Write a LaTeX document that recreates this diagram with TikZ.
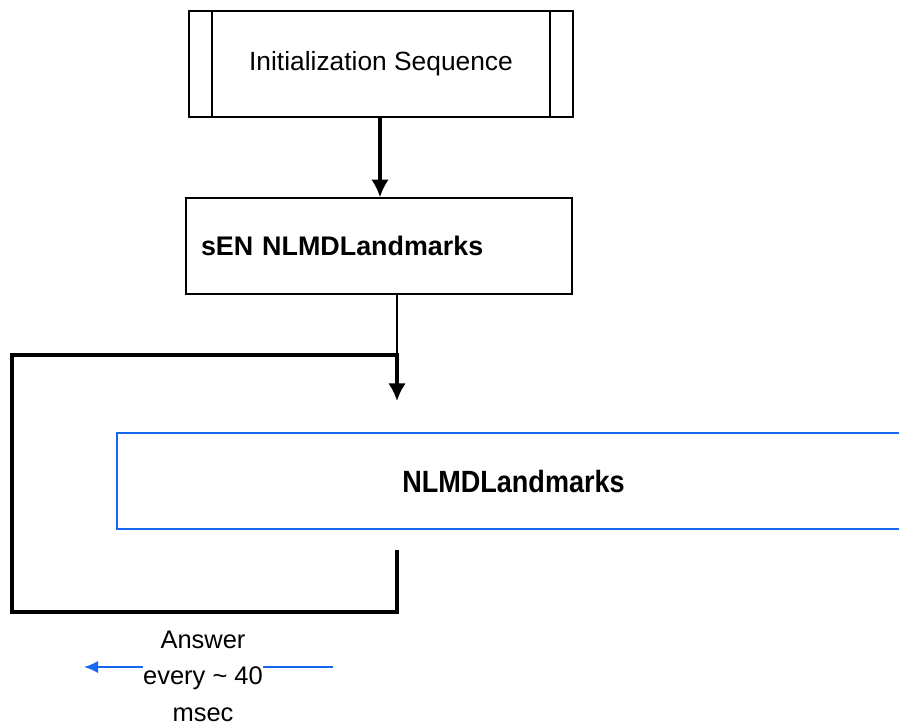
\documentclass[tikz,border=0pt]{standalone}
\usepackage{fontspec}
\setmainfont{Liberation Sans}
\newfontfamily\narrowfont[FakeStretch=0.88]{Liberation Sans}
\usepackage{xcolor}
\usepackage{tikz}
\usetikzlibrary{arrows.meta, positioning, calc}
\definecolor{loopblue}{RGB}{20,105,240}
\tikzset{
  procbox/.style={
    rectangle, draw=black, line width=0.9pt,
    minimum width=384*0.02cm, minimum height=106*0.02cm,
    inner sep=0pt, font=\fontsize{15}{18}\selectfont
  },
  stepbox/.style={
    rectangle, draw=black, line width=0.9pt,
    minimum width=386*0.02cm, minimum height=96*0.02cm,
    text width=356*0.02cm, align=left, inner sep=0pt,
    font=\fontsize{15.3}{18}\selectfont\bfseries
  },
  loopbox/.style={
    rectangle, draw=loopblue, line width=1.2pt,
    minimum width=793*0.02cm, minimum height=96*0.02cm,
    inner sep=0pt, font=\fontsize{17.5}{20}\selectfont\narrowfont\bfseries
  },
  flowarrow/.style={line width=1.8pt, -{Latex[width=10pt, length=10pt]}},
  thinline/.style={line width=0.9pt, draw=black},
  loopline/.style={line width=1.8pt, draw=black, line cap=rect},
  flowarrowB/.style={line width=1.1pt, draw=loopblue, -{Latex[width=7pt, length=8pt]}}
}
\begin{document}
\begin{tikzpicture}[x=0.02cm, y=-0.02cm]
  \useasboundingbox (0,0) rectangle (899,725);
  \clip (0,0) rectangle (899,725);

  % Draw boxes
  \node[procbox] (init) at (381,64) {Initialization Sequence};
  \draw[thinline] ($(init.north west)+(24,0)$) -- ($(init.south west)+(24,0)$);
  \draw[thinline] ($(init.north east)+(-24,0)$) -- ($(init.south east)+(-24,0)$);

  \node[stepbox] (sen) at (379,246) {sEN NLMDLandmarks};
  \node[loopbox] (landmarks) at (513.5,481) {NLMDLandmarks};

  % Draw the loop
  \coordinate (loopin) at (397,355);
  \coordinate (looptip) at (397,401);
  \coordinate (loopnw) at (12,355);
  \coordinate (loopsw) at (12,612);
  \coordinate (loopse) at (397,612);
  \coordinate (loopend) at (397,552);
  \coordinate (initout) at ($(init.south)+(-1,0)$);

  \draw[flowarrow] (initout) -- (initout |- sen.north);
  \draw[thinline] (sen.south -| loopin) -- (loopin);
  \draw[flowarrow] (loopin) -- (looptip);
  \draw[loopline] (loopin) -- (loopnw) -- (loopsw) -- (loopse) -- (loopend);

  % Draw the answer label
  \coordinate (answerfrom) at (333,667);
  \coordinate (answerto) at (84,667);
  \draw[flowarrowB] (answerfrom) -- (answerto);
  \node[fill=white, inner sep=0pt, align=center,
        font=\fontsize{14.5}{20.7}\selectfont] (answer) at (203,676)
    {Answer\\every \textasciitilde{} 40\\msec};
\end{tikzpicture}
\end{document}
